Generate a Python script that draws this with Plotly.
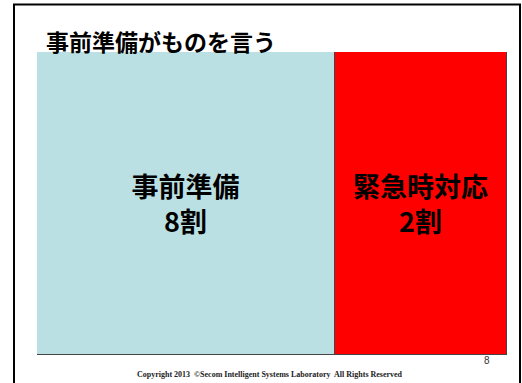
import plotly.graph_objects as go

categories = ["事前準備", "緊急時対応"]
share_labels = ["8割", "2割"]
box_widths = [63.4, 36.6]  # drawn widths (percent of total)
colors = ["#BBE0E3", "#FF0000"]
title_text = "事前準備がものを言う"
footer_text = "Copyright 2013  ©Secom Intelligent Systems Laboratory  All Rights Reserved"
page_no = "8"

W, H = 522, 383
L, R, T, B = 37, 15, 52, 28
pw, ph = W - L - R, H - T - B

def px(x):
    return (x - L) / pw

def py(y):
    return (H - B - y) / ph

fig = go.Figure()
for cat, lab, val, col in zip(categories, share_labels, box_widths, colors):
    fig.add_trace(go.Bar(
        x=[val], y=[0], orientation="h", width=1,
        marker=dict(color=col, line=dict(color="#444444", width=1)),
        text=[f"{cat}<br>{lab}"], textposition="inside", textangle=0,
        insidetextanchor="middle", constraintext="none",
        textfont=dict(family="Noto Sans CJK JP", size=27, color="black", weight="bold"),
        hoverinfo="skip", showlegend=False,
    ))

fig.update_layout(
    barmode="stack", bargap=0,
    width=W, height=H,
    margin=dict(l=L, r=R, t=T, b=B, pad=0),
    paper_bgcolor="white", plot_bgcolor="white",
    xaxis=dict(range=[0, sum(box_widths)], visible=False, fixedrange=True),
    yaxis=dict(range=[-0.5, 0.5], visible=False, fixedrange=True),
    shapes=[dict(type="rect", xref="paper", yref="paper",
                 x0=px(14), x1=px(520), y0=py(400), y1=py(4.5),
                 line=dict(color="black", width=2), layer="below")],
    annotations=[
        dict(text=title_text, xref="paper", yref="paper", x=px(44), y=py(41),
             xanchor="left", yanchor="middle", showarrow=False,
             font=dict(family="Noto Sans CJK JP", size=23, color="black", weight="bold")),
        dict(text=footer_text, xref="paper", yref="paper", x=px(270), y=py(374),
             xanchor="center", yanchor="middle", showarrow=False,
             font=dict(family="Liberation Serif", size=8, color="#222222", weight="bold")),
        dict(text=page_no, xref="paper", yref="paper", x=px(487), y=py(360),
             xanchor="center", yanchor="middle", showarrow=False,
             font=dict(family="Liberation Sans", size=10, color="#333333")),
    ],
)

fig.write_html("out.html", config={"displayModeBar": False})
